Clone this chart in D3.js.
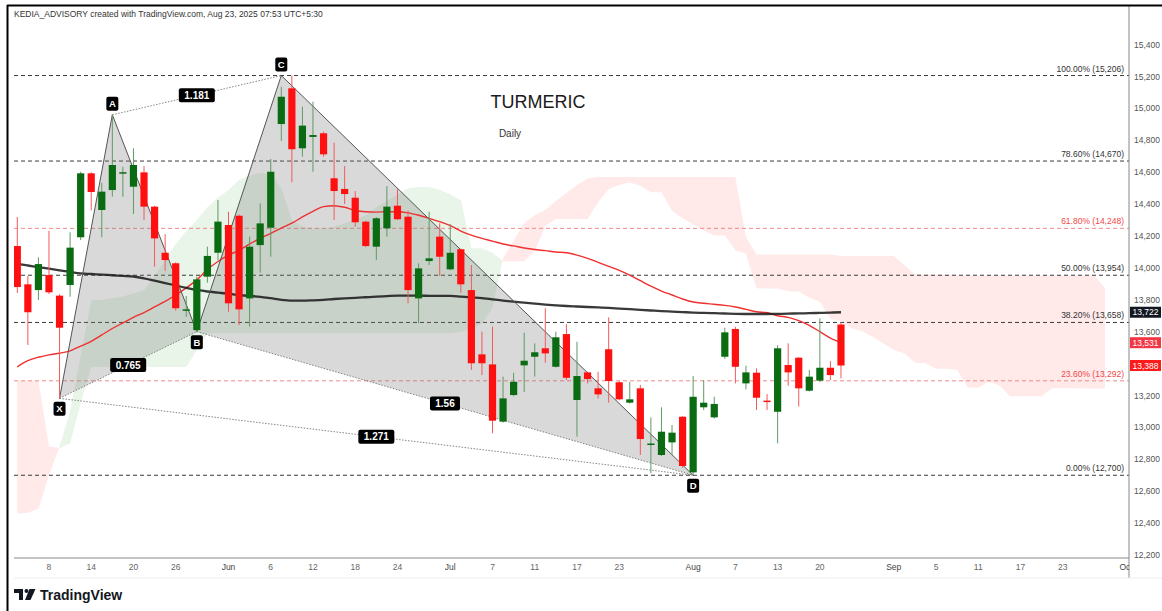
<!DOCTYPE html>
<html><head><meta charset="utf-8">
<script src="https://cdn.jsdelivr.net/npm/d3@7"></script>
<style>
html,body{margin:0;padding:0;background:#fff;}
svg{display:block;font-family:"Liberation Sans",Arial,sans-serif;}
</style></head>
<body><svg id="c" width="1162" height="611"></svg>
<script>
// ---------------- DATA ----------------
const holidays = ["2025-08-15","2025-08-27"];
const open  = [14137,13897,13861,13955,13826,13893,14192,14593,14363,14488,14595,14509,14599,14384,14095,14029,13735,13610,13945,14095,14269,14327,13809,14143,14252,14902,15126,14750,14821,14844,14562,14495,14440,14290,14133,14248,14390,14321,13809,14043,14196,13991,14117,13861,13458,13395,13036,13203,13389,13443,13496,13380,13585,13172,13345,13245,13490,13283,13155,13245,12893,12827,12906,13067,12718,13126,13063,13443,13617,13276,13343,13168,13098,13391,13437,13230,13293,13374,13645];
const high  = [14319,13949,14066,14233,13835,14223,14603,14600,14534,14960,14634,14750,14639,14390,14211,14035,13824,13945,14133,14426,14352,14335,14196,14405,14683,15136,15206,15011,15042,14854,14785,14639,14482,14295,14318,14513,14493,14359,14029,14352,14280,14275,14120,14018,13600,13631,13318,13343,13594,13527,13747,13600,13648,13537,13350,13349,13690,13290,13285,13266,13063,13126,13015,13070,13322,13297,13192,13625,13631,13387,13370,13209,13516,13527,13440,13360,13684,13416,13660];
const low   = [13843,13517,13799,13836,13182,13819,14175,14360,14192,14446,14446,14338,14300,14007,13982,13732,13694,13600,13907,14049,13725,13642,13631,13970,14070,14796,14537,14697,14603,14697,14300,14401,14258,14130,14049,14196,14300,13778,13653,14018,13949,13985,13844,13360,13328,12963,13030,13195,13222,13318,13405,13375,13297,12942,13276,13182,13155,13170,13150,12827,12712,12820,12827,12747,12700,13109,13055,13429,13276,13239,13109,13109,12900,13261,13130,13225,13285,13297,13308];
const close = [13880,13722,14024,13847,13625,14127,14593,14476,14478,14645,14600,14645,14384,14185,14049,13747,13740,13928,14075,14290,13778,13740,14133,14279,14603,15073,14744,14892,14833,14712,14482,14463,14286,14137,14311,14384,14305,13861,13997,14060,14070,14095,13897,13402,13402,13042,13182,13286,13418,13471,13464,13565,13311,13322,13303,13207,13291,13176,13176,12927,12899,12973,12967,12758,13192,13155,13147,13596,13380,13345,13186,13162,13496,13345,13245,13318,13374,13328,13388];
// long moving average (black) and short EMA (red)
const maLong = [14025,14015,14005,13995,13985,13975,13966,13962,13958,13954,13950,13946,13935,13920,13905,13890,13875,13862,13852,13845,13838,13830,13824,13819,13810,13800,13795,13795,13797,13800,13805,13809,13812,13816,13820,13823,13826,13826,13826,13825,13824,13824,13820,13815,13810,13803,13795,13788,13782,13776,13770,13765,13761,13758,13755,13752,13749,13745,13741,13737,13733,13729,13726,13723,13720,13718,13716,13714,13712,13711,13711,13711,13712,13713,13715,13716,13718,13720,13722];
const emaShort = [13380,13418,13440,13455,13465,13480,13510,13540,13580,13620,13655,13690,13720,13755,13790,13830,13875,13925,13990,14040,14080,14110,14150,14185,14217,14250,14280,14320,14355,14384,14390,14380,14360,14352,14350,14352,14352,14345,14330,14311,14290,14265,14231,14205,14185,14168,14150,14138,14125,14115,14108,14100,14095,14080,14060,14035,14010,13985,13955,13920,13885,13855,13830,13805,13786,13778,13772,13765,13755,13740,13725,13719,13700,13690,13670,13640,13600,13560,13531];
// Ichimoku leading spans (drawn 25 bars ahead) – 104 values each
const spanA = [12460,12465,12490,12700,12880,13100,13450,13797,13800,13810,13820,13840,13860,13950,14050,14150,14230,14300,14380,14440,
  14488,14551,14580,14595,14590,14500,14300,14260,14250,14250,14260,14280,14300,14330,14380,14420,14460,14500,14507,14507,
  14490,14460,14425,14123,14123,14095,14042,14042,14042,14106,14263,14306,14306,14306,14306,14411,14495,14520,14535,14515,
  14474,14474,14359,14311,14274,14235,14203,14203,14110,14089,13873,13871,13871,13853,13852,13813,13788,13679,13668,13621,
  13604,13568,13528,13487,13464,13407,13402,13368,13367,13361,13251,13249,13286,13262,13195,13195,13195,13195,13245,13245,
  13245,13244,13244,13244];
const spanB = [13292,13292,13292,12880,12870,12900,13150,13378,13378,13378,13378,13378,13378,13378,13378,13378,13378,13485,13590,13590,
  13590,13590,13590,13590,13590,13590,13590,13590,13590,13590,13590,13590,13590,13590,13590,13590,13590,13590,13590,13590,
  13590,13590,13600,13620,13650,13750,14060,14170,14281,14330,14363,14420,14470,14520,14560,14570,14570,14570,14570,14570,
  14570,14570,14570,14570,14570,14570,14570,14570,14570,14194,14084,14084,14084,14084,14084,14084,14084,14084,14074,14074,
  14074,14074,14074,14074,14016,13959,13959,13959,13959,13953,13953,13953,13953,13953,13953,13953,13953,13953,13953,13953,
  13953,13953,13953,13871];
// Harmonic XABCD pattern
const patternNames = ["X","A","B","C","D"];
const patternDates = ["2025-05-09","2025-05-16","2025-05-28","2025-06-09","2025-08-01"];
const patternPrices = [13182,14960,13600,15206,12700];
const ratioLabels = ["0.765","1.181","1.56","1.271"];
// Fibonacci retracement
const fibLevels = [1.0,0.786,0.618,0.5,0.382,0.236,0.0];
const fibPrices = [15206,14670,14248,13954,13658,13292,12700];
const fibRed = [false,false,true,false,false,true,false];
// Axes
const priceTicks = [12200,12400,12600,12800,13000,13200,13400,13600,13800,14000,14200,14400,14600,14800,15000,15200,15400];
const tickDates = ["2025-05-08","2025-05-14","2025-05-20","2025-05-26","2025-06-02","2025-06-06","2025-06-12","2025-06-18","2025-06-24","2025-07-01","2025-07-07","2025-07-11","2025-07-17","2025-07-23","2025-08-01","2025-08-07","2025-08-13","2025-08-20","2025-09-01","2025-09-05","2025-09-11","2025-09-17","2025-09-23","2025-10-01"];
const tickLabels = ["8","14","20","26","Jun","6","12","18","24","Jul","7","11","17","23","Aug","7","13","20","Sep","5","11","17","23","Oct"];
const lastValues = [13722,13531,13388];
const lastColors = ["#131722","#f23645","#ff1a1a"];

// ---------------- helpers ----------------
function tradingDays(start, end){
  const out=[]; let d=new Date(start+"T00:00:00Z"); const e=new Date(end+"T00:00:00Z");
  while(d<=e){ const wd=d.getUTCDay(); const s=d.toISOString().slice(0,10);
    if(wd!==0&&wd!==6&&!holidays.includes(s)) out.push(s); d=new Date(d.getTime()+86400000);}
  return out;
}
const days = tradingDays("2025-05-05","2025-10-03");
const idx = s => days.indexOf(s);

const svg = d3.select("#c");
const L=14, R=1129, T=6, B=558;
const x = d3.scaleLinear().domain([0,105]).range([17.3, 17.3+105*10.56]);
const y = d3.scaleLinear().domain([12200,15200]).range([555,76.5]);

svg.append("rect").attr("width",1162).attr("height",611).attr("fill","#fff");
const defs = svg.append("defs");
defs.append("clipPath").attr("id","plot").append("rect")
  .attr("x",L).attr("y",T).attr("width",R-L).attr("height",B-T);
defs.append("clipPath").attr("id","xaxclip").append("rect").attr("x",L).attr("y",B).attr("width",R-L).attr("height",20);
const g = svg.append("g").attr("clip-path","url(#plot)");

// ---- Ichimoku cloud ----
let pts=[];
for(let i=0;i<spanA.length;i++){
  pts.push({i:i,a:spanA[i],b:spanB[i]});
  if(i<spanA.length-1){
    const d0=spanA[i]-spanB[i], d1=spanA[i+1]-spanB[i+1];
    if(d0*d1<0){ const t=d0/(d0-d1); const v=spanB[i]+t*(spanB[i+1]-spanB[i]);
      pts.push({i:i+t,a:v,b:v}); }
  }
}
const areaUp = d3.area().x(d=>x(d.i)).y0(d=>y(d.b)).y1(d=>y(Math.max(d.a,d.b)));
const areaDn = d3.area().x(d=>x(d.i)).y0(d=>y(d.b)).y1(d=>y(Math.min(d.a,d.b)));
g.append("path").datum(pts).attr("d",areaUp).attr("fill","rgba(76,175,80,0.13)");
g.append("path").datum(pts).attr("d",areaDn).attr("fill","rgba(255,82,82,0.13)");

// ---- Fibonacci lines ----
fibPrices.forEach((p,k)=>{
  const col = fibRed[k] ? "#f08a8a" : "#3a3a3a";
  g.append("line").attr("x1",L).attr("x2",R).attr("y1",y(p)).attr("y2",y(p))
    .attr("stroke",col).attr("stroke-width",1).attr("stroke-dasharray","4,3");
  svg.append("text").attr("x",1124).attr("y",y(p)-4).attr("text-anchor","end")
    .attr("font-size",8.5).attr("fill",fibRed[k]?"#f04848":"#333")
    .text(d3.format(".2f")(fibLevels[k]*100)+"% ("+d3.format(",")(p)+")");
});

// ---- pattern fill ----
const P = patternNames.map((n,k)=>({n:n, i:idx(patternDates[k]), v:patternPrices[k]}));
const px = p=>x(p.i), py=p=>y(p.v);
const tri = (a,b,c)=>`M${px(a)},${py(a)}L${px(b)},${py(b)}L${px(c)},${py(c)}Z`;
g.append("path").attr("d",tri(P[0],P[1],P[2])).attr("fill","rgba(120,120,120,0.28)");
g.append("path").attr("d",tri(P[2],P[3],P[4])).attr("fill","rgba(120,120,120,0.28)");

// ---- moving averages ----
const line = d3.line().x((d,i)=>x(i)).y(d=>y(d)).curve(d3.curveMonotoneX);
g.append("path").datum(emaShort).attr("d",line).attr("fill","none").attr("stroke","#ef3030").attr("stroke-width",1.4);
g.append("path").datum(maLong).attr("d",line).attr("fill","none").attr("stroke","#161616").attr("stroke-width",2.3).attr("opacity",0.85);

// pattern lines
const seg=(a,b,dash)=>g.append("line").attr("x1",px(a)).attr("y1",py(a)).attr("x2",px(b)).attr("y2",py(b))
  .attr("stroke",dash?"#777":"#555").attr("stroke-width",dash?0.9:1).attr("stroke-dasharray",dash?"1.5,1.5":null);
seg(P[0],P[1],false); seg(P[1],P[2],false); seg(P[2],P[3],false); seg(P[3],P[4],false);
seg(P[0],P[2],true); seg(P[1],P[3],true); seg(P[2],P[4],true); seg(P[0],P[4],true);

// ---- candles ----
const cg = g.append("g");
close.forEach((c,i)=>{
  const o=open[i], up=c>=o, col=up?"#0b6b12":"#ff1010", wick=up?"#5f9a63":"#f25a5a";
  cg.append("line").attr("x1",x(i)).attr("x2",x(i)).attr("y1",y(high[i])).attr("y2",y(low[i]))
    .attr("stroke",wick).attr("stroke-width",1);
  const yt=y(Math.max(o,c)), yb=y(Math.min(o,c));
  cg.append("rect").attr("x",x(i)-3.6).attr("width",7.2).attr("y",yt).attr("height",Math.max(1.5,yb-yt)).attr("fill",col);
});

// ---- point labels ----
P.forEach(p=>{
  const above = (p.n==="A"||p.n==="C");
  const cy = py(p) + (above?-11:10.5);
  svg.append("rect").attr("x",px(p)-6).attr("y",cy-7).attr("width",12).attr("height",14).attr("rx",2).attr("fill","#000");
  svg.append("text").attr("x",px(p)).attr("y",cy+3.5).attr("text-anchor","middle").attr("fill","#fff")
    .attr("font-size",9.5).attr("font-weight","bold").text(p.n);
});
const pairs=[[0,2],[1,3],[2,4],[0,4]];
pairs.forEach((pr,k)=>{
  const a=P[pr[0]], b=P[pr[1]];
  const mx=(px(a)+px(b))/2, my=(py(a)+py(b))/2;
  const w = ratioLabels[k].length*6+6;
  svg.append("rect").attr("x",mx-w/2).attr("y",my-7).attr("width",w).attr("height",14).attr("rx",2).attr("fill","#000");
  svg.append("text").attr("x",mx).attr("y",my+3.5).attr("text-anchor","middle").attr("fill","#fff")
    .attr("font-size",10).attr("font-weight","bold").text(ratioLabels[k]);
});

// ---- title ----
svg.append("text").attr("x",538).attr("y",108).attr("text-anchor","middle").attr("font-size",18).attr("fill","#1a1a1a").text("TURMERIC");
svg.append("text").attr("x",510).attr("y",137).attr("text-anchor","middle").attr("font-size",10).attr("fill","#333").text("Daily");

// ---- axes ----
svg.append("line").attr("x1",R).attr("x2",R).attr("y1",T).attr("y2",578).attr("stroke","#888");
svg.append("line").attr("x1",L).attr("x2",R).attr("y1",B).attr("y2",B).attr("stroke","#888");
svg.append("line").attr("x1",L).attr("x2",1162).attr("y1",578).attr("y2",578).attr("stroke","#eee");
priceTicks.forEach(p=>{
  const near = lastValues.some(v=>Math.abs(y(v)-y(p))<8);
  if(near) return;
  svg.append("text").attr("x",1134).attr("y",y(p)+3).attr("font-size",8.5).attr("fill","#555").text(d3.format(",")(p));
});
const xg = svg.append("g").attr("clip-path","url(#xaxclip)");
tickDates.forEach((d,k)=>{
  const isM = isNaN(+tickLabels[k]);
  xg.append("text").attr("x",x(idx(d))).attr("y",570).attr("text-anchor","middle").attr("font-size",8.5)
    .attr("fill",isM?"#444":"#666").text(tickLabels[k]);
});
lastValues.forEach((v,k)=>{
  svg.append("rect").attr("x",R+1).attr("y",y(v)-5.5).attr("width",31).attr("height",11).attr("fill",lastColors[k]);
  svg.append("text").attr("x",R+16.5).attr("y",y(v)+3).attr("text-anchor","middle").attr("font-size",8.5).attr("fill","#fff").text(d3.format(",")(v));
});

// ---- header, frame, logo ----
svg.append("text").attr("x",14).attr("y",17).attr("font-size",8.5).attr("fill","#333")
  .text("KEDIA_ADVISORY created with TradingView.com, Aug 23, 2025 07:53 UTC+5:30");
svg.append("line").attr("x1",7).attr("x2",1162).attr("y1",5.5).attr("y2",5.5).attr("stroke","#000").attr("stroke-width",2);
svg.append("line").attr("x1",7.5).attr("x2",7.5).attr("y1",5).attr("y2",611).attr("stroke","#000").attr("stroke-width",2);
const lg = svg.append("g").attr("fill","#131722");
lg.append("path").attr("d","M14,589h9v11h-4v-7h-5z");
lg.append("circle").attr("cx",26.5).attr("cy",591).attr("r",2);
lg.append("path").attr("d","M29.5,589h6l-5,11h-5.5z");
svg.append("text").attr("x",40).attr("y",600).attr("font-size",14).attr("font-weight","bold").attr("fill","#131722").text("TradingView");
</script></body></html>
